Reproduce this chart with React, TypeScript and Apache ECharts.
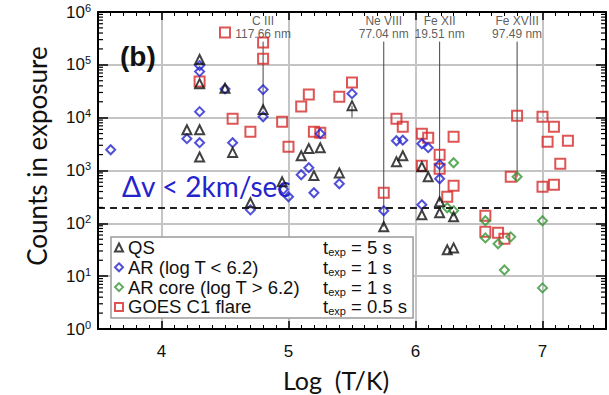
import React, { useEffect, useRef } from "react";
import * as echarts from "echarts";

const seriesNames = ["QS", "AR (log T < 6.2)", "AR core (log T > 6.2)", "GOES C1 flare"];
const texpValues = ["5 s", "1 s", "1 s", "0.5 s"];

const qsData: number[][] = [
  [4.2, 5900], [4.3, 126000], [4.3, 44000], [4.3, 5900], [4.3, 1800], [4.5, 36000],
  [4.56, 2200], [4.7, 245], [4.8, 14200], [4.95, 610], [5.1, 1900], [5.16, 2600],
  [5.2, 800], [5.25, 2700], [5.4, 900], [5.5, 16900], [5.75, 86], [5.85, 1470],
  [5.9, 1900], [6.05, 1180], [6.05, 145], [6.1, 760], [6.19, 256], [6.19, 158],
  [6.25, 31.5], [6.3, 133], [6.3, 34.3],
];
const arData: number[][] = [
  [3.6, 2470], [4.2, 4000], [4.3, 96800], [4.3, 74500], [4.3, 13000], [4.3, 3360],
  [4.5, 35000], [4.56, 3360], [4.7, 180], [4.8, 34000], [4.8, 10400], [4.96, 440],
  [5.0, 318], [5.1, 830], [5.16, 1130], [5.2, 379], [5.25, 4970], [5.4, 561],
  [5.5, 28500], [5.75, 173], [5.85, 3660], [5.9, 3750], [6.05, 3210], [6.05, 224],
  [6.1, 2700], [6.19, 1290], [6.19, 698],
];
const coreData: number[][] = [
  [6.25, 197], [6.3, 1400], [6.3, 173], [6.55, 112], [6.55, 53], [6.65, 41],
  [6.7, 13.1], [6.75, 55.5], [6.8, 760], [7.0, 112], [7.0, 6.0],
];
const goesData: number[][] = [
  [4.3, 48200], [4.5, 408000], [4.56, 9580], [4.7, 5430], [4.8, 264000], [4.8, 131000],
  [4.95, 8400], [5.0, 2820], [5.1, 16200], [5.16, 27300], [5.2, 5430], [5.25, 5200],
  [5.4, 25000], [5.5, 46100], [5.75, 379], [5.85, 9580], [5.9, 6750], [6.05, 4970],
  [6.05, 1230], [6.1, 4180], [6.19, 1990], [6.19, 1080], [6.25, 318], [6.3, 4370],
  [6.3, 514], [6.55, 139], [6.55, 69], [6.65, 66], [6.7, 50.8], [6.75, 760],
  [6.8, 10900], [7.0, 10400], [7.0, 492], [7.04, 3510], [7.09, 6750], [7.09, 537],
  [7.14, 1340], [7.2, 3660],
];

const lineLabels = ["C III\n117.66 nm", "Ne VIII\n77.04 nm", "Fe XII\n19.51 nm", "Fe XVIII\n97.49 nm"];
const lineX = [4.8, 5.75, 6.19, 6.8];
const lineTop = [275000, 275000, 275000, 275000];
const lineBottom = [14200, 86, 256, 760];
const shortLine = [[5.5, 16900], [5.5, 10000]];
const thresholdCounts = 200;

const xMin = 3.5;
const xMax = 7.5;
const yMin = 1;
const yMax = 1e6;

const yMinorTicks: number[][] = [];
for (let d = 0; d < 6; d++) {
  for (let k = 2; k <= 9; k++) yMinorTicks.push([xMin, k * Math.pow(10, d)]);
}

const RED = "#d42a2a";
const BLUE = "#2424cc";
const GREEN = "#369636";
const BLACK = "#111111";
const SANS = '"Liberation Sans", Arial, sans-serif';

export default function App() {
  const ref = useRef<HTMLDivElement>(null);
  useEffect(() => {
    if (!ref.current) return;
    const chart = echarts.init(ref.current, undefined, { renderer: "svg" });
    const hollow = (c: string) => ({ color: "rgba(255,255,255,0)", borderColor: c, borderWidth: 2 });
    const lineSeries: any[] = lineX.map((x, i) => ({
      type: "line",
      data: [[x, lineTop[i]], [x, lineBottom[i]]],
      symbol: "none",
      lineStyle: { color: "#444", width: 1 },
      silent: true,
      z: 1,
    }));
    lineSeries.push({
      type: "line",
      data: shortLine,
      symbol: "none",
      lineStyle: { color: "#444", width: 1 },
      silent: true,
      z: 1,
    });
    const option: any = {
      animation: false,
      grid: { left: 98, top: 12, right: 3, bottom: 66 },
      legend: {
        data: seriesNames,
        orient: "vertical",
        left: 111,
        top: 237,
        backgroundColor: "#ffffff",
        borderColor: "#9a9a9a",
        borderWidth: 1.5,
        borderRadius: 0,
        padding: [1, 6, 1, 3],
        itemGap: 0.3,
        itemWidth: 8,
        itemHeight: 8,
        selectedMode: false,
        formatter: (name: string) => {
          const i = seriesNames.indexOf(name);
          return `{n|${name}}{t|t}{e|exp}{v| = ${texpValues[i]}}`;
        },
        textStyle: {
          fontFamily: SANS,
          fontSize: 18.5,
          color: BLACK,
          rich: {
            n: { width: 195, fontSize: 18.5, lineHeight: 20, fontFamily: SANS, color: BLACK },
            t: { fontSize: 18.5, lineHeight: 20, fontFamily: SANS, color: BLACK },
            e: { fontSize: 11, lineHeight: 12, verticalAlign: "bottom", fontFamily: SANS, color: BLACK },
            v: { fontSize: 18.5, lineHeight: 20, fontFamily: SANS, color: BLACK },
          },
        },
      },
      xAxis: [
        {
          type: "value",
          min: xMin,
          max: xMax,
          splitNumber: 4,
          axisLine: { show: true, onZero: false, lineStyle: { color: "#000", width: 2 } },
          axisTick: { show: true, inside: true, length: 8, lineStyle: { color: "#000", width: 1.5 } },
          minorTick: { show: true, splitNumber: 10, length: 4, lineStyle: { color: "#000", width: 1 } },
          splitLine: { show: true, lineStyle: { color: "#c4c4c4", width: 2 } },
          axisLabel: {
            margin: 14,
            fontSize: 17,
            fontFamily: SANS,
            color: BLACK,
            formatter: (v: number) => (Number.isInteger(v) ? String(v) : ""),
          },
        },
        {
          type: "value",
          position: "top",
          min: xMin,
          max: xMax,
          splitNumber: 4,
          axisLine: { show: true, onZero: false, lineStyle: { color: "#000", width: 2 } },
          axisTick: { show: true, inside: true, length: 8, lineStyle: { color: "#000", width: 1.5 } },
          minorTick: { show: true, splitNumber: 10, length: 4, lineStyle: { color: "#000", width: 1 } },
          splitLine: { show: false },
          axisLabel: { show: false },
        },
      ],
      yAxis: [
        {
          type: "log",
          logBase: 10,
          min: yMin,
          max: yMax,
          splitNumber: 6,
          axisLine: { show: true, onZero: false, lineStyle: { color: "#000", width: 2 } },
          axisTick: { show: true, inside: true, length: 10, lineStyle: { color: "#000", width: 1.5 } },
          splitLine: { show: true, lineStyle: { color: "#c4c4c4", width: 2 } },
          axisLabel: {
            margin: 7,
            color: BLACK,
            formatter: (v: number) => `{b|10}{s|${Math.round(Math.log10(v))}}`,
            rich: {
              b: { fontSize: 17, lineHeight: 20, fontFamily: SANS, color: BLACK },
              s: { fontSize: 11, lineHeight: 11, verticalAlign: "top", fontFamily: SANS, color: BLACK },
            },
          },
        },
        {
          type: "log",
          logBase: 10,
          position: "right",
          min: yMin,
          max: yMax,
          splitNumber: 6,
          axisLine: { show: true, onZero: false, lineStyle: { color: "#000", width: 2 } },
          axisTick: { show: true, inside: true, length: 10, lineStyle: { color: "#000", width: 1.5 } },
          splitLine: { show: false },
          axisLabel: { show: false },
        },
      ],
      graphic: [
        {
          type: "text",
          x: 120,
          y: 56,
          z: 1,
          style: { text: "(b)", font: `bold 28px ${SANS}`, fill: BLACK, verticalAlign: "middle" },
        },
        {
          type: "text",
          x: 122,
          y: 186,
          z: 1,
          style: { text: "Δv < 2km/sec", font: "28px Lato", fill: BLUE, verticalAlign: "middle" },
        },
        {
          type: "text",
          x: 37,
          y: 156,
          rotation: Math.PI / 2,
          style: { text: "Counts in exposure", font: "26px Lato", fill: BLACK, align: "center", verticalAlign: "middle" },
        },
        {
          type: "text",
          x: 336,
          y: 380,
          style: { text: "Log  (T/K)", font: "25px Lato", fill: BLACK, align: "center", verticalAlign: "middle" },
        },
      ],
      series: [
        ...lineSeries,
        {
          type: "scatter",
          data: lineX.map((x, i) => [x, lineTop[i]]),
          symbolSize: 1,
          itemStyle: { color: "rgba(0,0,0,0)" },
          silent: true,
          z: 1,
          label: {
            show: true,
            position: "top",
            distance: 1,
            formatter: (p: any) => lineLabels[p.dataIndex],
            fontFamily: SANS,
            fontSize: 12,
            lineHeight: 13,
            color: "#333",
            align: "center",
          },
        },
        {
          name: seriesNames[3],
          type: "scatter",
          data: goesData,
          symbol: "rect",
          symbolSize: 10,
          itemStyle: hollow(RED),
          z: 2,
        },
        {
          name: seriesNames[2],
          type: "scatter",
          data: coreData,
          symbol: "diamond",
          symbolSize: 9,
          itemStyle: hollow(GREEN),
          z: 3,
        },
        {
          name: seriesNames[1],
          type: "scatter",
          data: arData,
          symbol: "diamond",
          symbolSize: 9,
          itemStyle: hollow(BLUE),
          z: 4,
        },
        {
          name: seriesNames[0],
          type: "scatter",
          data: qsData,
          symbol: "triangle",
          symbolSize: 9,
          itemStyle: hollow(BLACK),
          z: 5,
          markLine: {
            silent: true,
            symbol: "none",
            label: { show: false },
            lineStyle: { type: [7, 5], color: "#222", width: 2 },
            data: [{ yAxis: thresholdCounts }],
          },
        },
        {
          type: "custom",
          data: yMinorTicks,
          silent: true,
          clip: false,
          z: 10,
          encode: { x: 0, y: 1 },
          renderItem: (params: any, api: any) => {
            const y = api.coord([api.value(0), api.value(1)])[1];
            const cs = params.coordSys;
            return {
              type: "group",
              children: [
                { type: "line", shape: { x1: cs.x, y1: y, x2: cs.x + 5, y2: y }, style: { stroke: "#000", lineWidth: 1.2 } },
                { type: "line", shape: { x1: cs.x + cs.width - 5, y1: y, x2: cs.x + cs.width, y2: y }, style: { stroke: "#000", lineWidth: 1.2 } },
              ],
            };
          },
        },
      ],
    };
    chart.setOption(option);
    return () => chart.dispose();
  }, []);
  return <div ref={ref} style={{ position: "fixed", left: 0, top: 0, width: 609, height: 395, background: "#fff" }} />;
}
